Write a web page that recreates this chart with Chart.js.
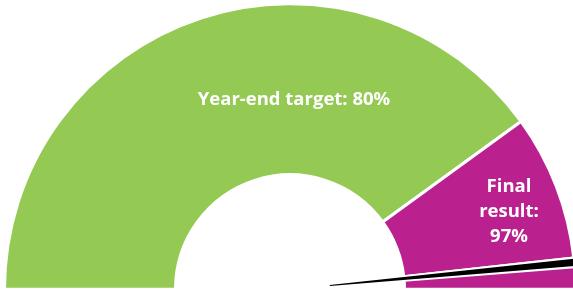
<!DOCTYPE html>
<html>
<head>
<meta charset="utf-8">
<script src="https://cdn.jsdelivr.net/npm/chart.js@4"></script>
<style>
html, body { margin: 0; padding: 0; background: #fff; overflow: hidden; }
#wrap { position: relative; width: 577px; height: 293px; }
#wrap canvas { position: absolute; left: 0; top: 0; }
</style>
</head>
<body>
<div id="wrap">
  <canvas id="ring" width="577" height="293"></canvas>
  <canvas id="needle" width="577" height="293"></canvas>
</div>
<script>
// values in percent
const target = 80;
const result = 97;
const gap = 1.0;        // clearance cut out of the ring around the needle
const needleWidth = 0.8;

const ringColors = ['#94c954', '#bb218e', '#ffffff', '#bb218e'];
const targetLabel = ['Year-end target: ' + target + '%'];
const resultLabel = ['Final', 'result:', result + '%'];

const ringData = [target, result - target - gap / 2, gap, 100 - result - gap / 2];
const needleData = [result - needleWidth / 2, needleWidth, 100 - result - needleWidth / 2];

const font = 'bold 18.5px "Open Sans", sans-serif';

const labelPlugin = {
  id: 'labels',
  afterDraw(chart) {
    const arc = chart.getDatasetMeta(0).data[0];
    const cx = arc.x, cy = arc.y;
    const ctx = chart.ctx;
    ctx.save();
    ctx.fillStyle = '#fff';
    ctx.font = font;
    ctx.textAlign = 'center';
    ctx.textBaseline = 'middle';
    ctx.fillText(targetLabel[0], cx + 4, cy - 190);
    resultLabel.forEach((t, i) => ctx.fillText(t, cx + 219, cy - 103 + i * 25));
    ctx.restore();
  }
};

const common = {
  responsive: false,
  animation: false,
  rotation: -90,
  circumference: 180,
  layout: { padding: { left: 3, right: 0, top: 0, bottom: 0 } },
  plugins: { legend: { display: false }, tooltip: { enabled: false } }
};

new Chart(document.querySelector('#ring'), {
  type: 'doughnut',
  data: {
    labels: ['Target', 'Result', '', ''],
    datasets: [{
      data: ringData,
      backgroundColor: ringColors,
      borderColor: '#ffffff',
      borderWidth: 3
    }]
  },
  options: Object.assign({}, common, { cutout: '40.1%' }),
  plugins: [labelPlugin]
});

new Chart(document.querySelector('#needle'), {
  type: 'doughnut',
  data: {
    labels: ['', 'Final result', ''],
    datasets: [{
      data: needleData,
      backgroundColor: ['rgba(0,0,0,0)', '#000000', 'rgba(0,0,0,0)'],
      borderColor: 'rgba(0,0,0,0)',
      borderWidth: 3
    }]
  },
  options: Object.assign({}, common, { cutout: '14%' })
});
</script>
</body>
</html>
